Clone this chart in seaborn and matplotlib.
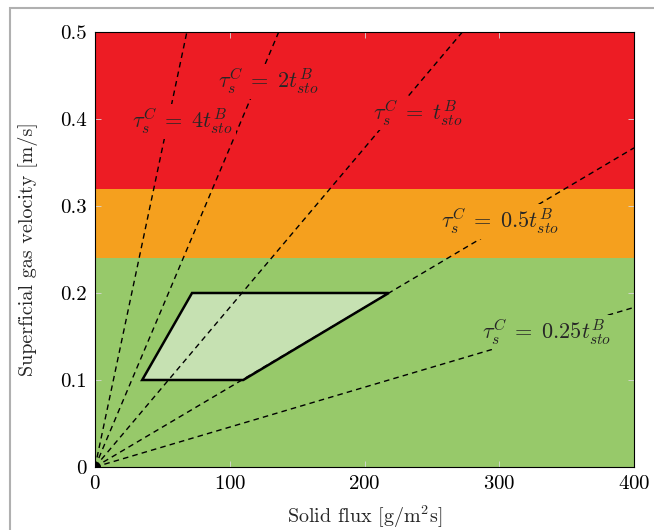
import pandas as pd
import seaborn as sns
import matplotlib.pyplot as plt
from matplotlib.patches import Rectangle

# Operating regimes (superficial gas velocity bands)
band_edges = [0.0, 0.24, 0.32, 0.5]
band_colors = ["#97c96a", "#f5a01e", "#ed1c24"]

# Feasible operating window
window_x = [35, 110, 218, 72]
window_y = [0.1, 0.1, 0.2, 0.2]

# Residence time ratio lines  u = k * G
base_slope = 0.000917          # slope of tau = 0.5 t_sto
ratios = [0.25, 0.5, 1, 2, 4]
ratio_names = ["0.25", "0.5", "", "2", "4"]
label_x = [335, 301, 240, 129, 65]
label_y = [0.155, 0.282, 0.407, 0.443, 0.397]

x_max, y_max = 400, 0.5

rows = []
for r in ratios:
    k = base_slope * r / 0.5
    x_end = min(x_max, y_max / k)
    rows.append({"ratio": r, "x": 0, "y": 0})
    rows.append({"ratio": r, "x": x_end, "y": k * x_end})
lines = pd.DataFrame(rows)

sns.set_style("ticks")
plt.rcParams["font.family"] = ["cmr10", "DejaVu Serif"]
plt.rcParams["mathtext.fontset"] = "cm"
plt.rcParams["axes.formatter.use_mathtext"] = True

fig = plt.figure(figsize=(6.54, 5.30), dpi=100)
ax = fig.add_axes([0.1453, 0.1189, 0.9694 - 0.1453, 0.9396 - 0.1189])

for lo, hi, c in zip(band_edges[:-1], band_edges[1:], band_colors):
    ax.axhspan(lo, hi, color=c, lw=0, zorder=0)

ax.fill(window_x, window_y, facecolor="#c6e1b2", edgecolor="black", lw=1.8, zorder=2)

sns.lineplot(data=lines, x="x", y="y", units="ratio", estimator=None,
             color="black", lw=1.0, ax=ax, zorder=3)
for ln in ax.get_lines():
    ln.set_dashes((4, 3))

ax.plot([0], [0], "o", color="black", ms=7, zorder=4, clip_on=True)

for name, lx, ly in zip(ratio_names, label_x, label_y):
    bg = band_colors[0] if ly < 0.24 else (band_colors[1] if ly < 0.32 else band_colors[2])
    ax.text(lx, ly, r"$\tau_s^C\;=\;%st_{sto}^B$" % name, fontsize=16,
            ha="center", va="center", zorder=5,
            bbox=dict(facecolor=bg, edgecolor="none", pad=2))

ax.set_xlim(0, x_max)
ax.set_ylim(0, y_max)
ax.set_xticks([0, 100, 200, 300, 400])
ax.set_yticks([0, 0.1, 0.2, 0.3, 0.4, 0.5])
ax.set_yticklabels(["0", "0.1", "0.2", "0.3", "0.4", "0.5"])
ax.tick_params(direction="in", length=4, width=0.6, color="#d8d8d8",
               labelsize=15, top=True, right=True, labelcolor="black", pad=6)
for s in ax.spines.values():
    s.set_color("black")
    s.set_linewidth(0.8)
    s.set_zorder(6)

ax.set_xlabel(r"Solid flux [g/m$^2$s]", fontsize=14.5, labelpad=7)
ax.set_ylabel("Superficial gas velocity [m/s]", fontsize=14.5, labelpad=16)

# thin grey frame around the figure
fig.patches.append(Rectangle((10 / 654, -0.1), 1.2, 1 - 8 / 530 + 0.1,
                             transform=fig.transFigure, fill=False,
                             edgecolor="#b0b0b0", lw=1.5))

fig.savefig("out.png", dpi=100)
plt.close(fig)
